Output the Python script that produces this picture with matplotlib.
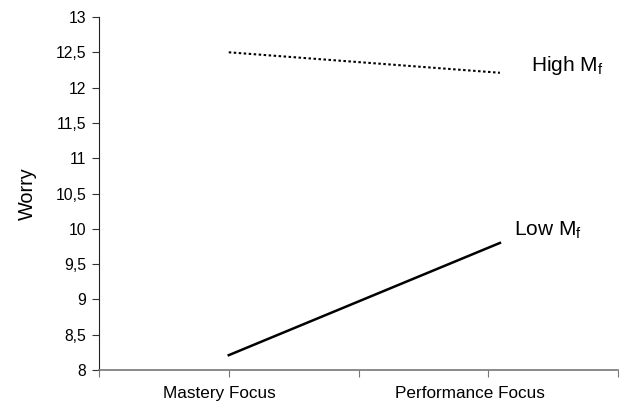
import matplotlib
matplotlib.use("Agg")
import matplotlib.pyplot as plt
from matplotlib.ticker import FuncFormatter

plt.rcParams['font.family'] = ['Liberation Sans', 'DejaVu Sans']

categories = ['Mastery Focus', 'Performance Focus']
high_mf = [12.5, 12.21]
low_mf = [8.21, 9.80]
series_labels = ['High M$_\\mathregular{f}$', 'Low M$_\\mathregular{f}$']

# x positions on a 0..4 axis (the original has ticks at 0..4)
line_x = [1, 3.09]
label_x = [0.93, 2.86]

fig = plt.figure(figsize=(6.38, 4.04), dpi=100)
ax = fig.add_axes([99 / 638, 1 - 370 / 404, (618 - 99) / 638, (370 - 17) / 404])

ax.plot(line_x, high_mf, color='black', linestyle=(0, (1.2, 1.2)), linewidth=1.5)
ax.plot(line_x, low_mf, color='black', linestyle='-', linewidth=1.8)

ax.set_xlim(0, 4)
ax.set_ylim(8, 13)
ax.set_yticks([8 + 0.5 * i for i in range(11)])
ax.yaxis.set_major_formatter(FuncFormatter(lambda v, p: ('%g' % v).replace('.', ',')))
ax.set_xticks([0, 1, 2, 3, 4])
ax.set_xticklabels([])
for x, c in zip(label_x, categories):
    ax.text(x, -0.045, c, transform=ax.get_xaxis_transform(), ha='center', va='top', fontsize=12.3)

ax.text(3.33, high_mf[1] + 0.1, series_labels[0], fontsize=15, va='center', ha='left')
ax.text(3.2, low_mf[1] + 0.18, series_labels[1], fontsize=15, va='center', ha='left')

ax.set_ylabel('Worry', fontsize=14.3)
ax.yaxis.set_label_coords(-62 / 519, 0.5)
ax.tick_params(axis='y', labelsize=11.3, length=5, direction='out', color='#333333', pad=4)
ax.tick_params(axis='x', length=5, direction='out', color='#777777')
ax.spines['top'].set_visible(False)
ax.spines['right'].set_visible(False)
ax.spines['left'].set_color('#222222')
ax.spines['bottom'].set_color('#777777')
ax.spines['bottom'].set_linewidth(1.2)

fig.savefig('out.png', dpi=100)
